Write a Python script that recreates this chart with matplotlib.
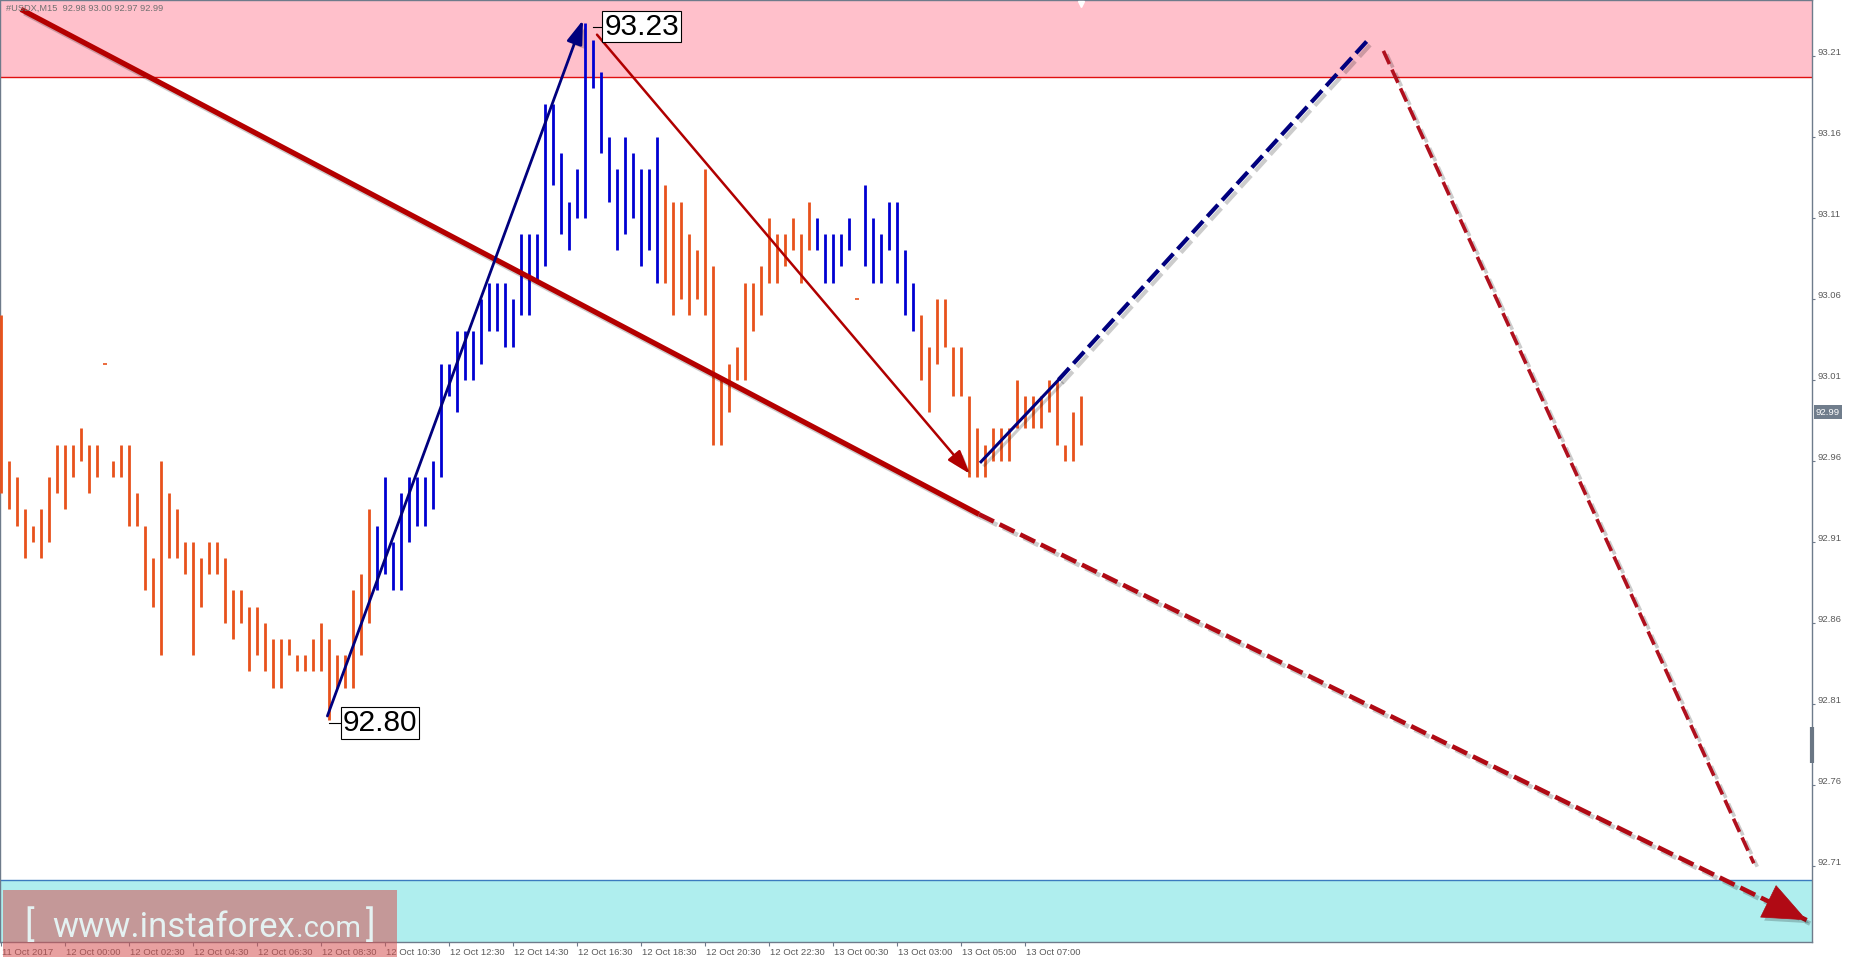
"""
usdx_m15_waves.py
-----------------
USDX M15 bar chart with wave markup (resistance / support zones, forecast arrows).
"""

import matplotlib
matplotlib.use("Agg")
import matplotlib.pyplot as plt
import matplotlib.patheffects as pe
import matplotlib.transforms as mtransforms
from matplotlib.patches import Rectangle

FIG_W, FIG_H, DPI = 1854, 959, 100

# ---- bars (one per M15 bar, oldest first) ----
highs = [
    93.05, 92.96, 92.95, 92.93, 92.92, 92.93, 92.95, 92.97, 92.97, 92.97,
    92.98, 92.97, 92.97, 93.02, 92.96, 92.97, 92.97, 92.94, 92.92, 92.90,
    92.96, 92.94, 92.93, 92.91, 92.91, 92.90, 92.91, 92.91, 92.90, 92.88,
    92.88, 92.87, 92.87, 92.86, 92.85, 92.85, 92.85, 92.84, 92.84, 92.85,
    92.86, 92.85, 92.84, 92.84, 92.88, 92.89, 92.93, 92.92, 92.95, 92.91,
    92.94, 92.95, 92.95, 92.95, 92.96, 93.02, 93.02, 93.04, 93.04, 93.04,
    93.06, 93.07, 93.07, 93.07, 93.06, 93.10, 93.10, 93.10, 93.18, 93.18,
    93.15, 93.12, 93.14, 93.23, 93.22, 93.20, 93.16, 93.14, 93.16, 93.15,
    93.14, 93.14, 93.16, 93.13, 93.12, 93.12, 93.10, 93.09, 93.14, 93.08,
    93.01, 93.02, 93.03, 93.07, 93.07, 93.08, 93.11, 93.10, 93.10, 93.11,
    93.10, 93.12, 93.11, 93.10, 93.10, 93.10, 93.11, 93.06, 93.13, 93.11,
    93.10, 93.12, 93.12, 93.09, 93.07, 93.05, 93.03, 93.06, 93.06, 93.03,
    93.03, 93.00, 92.98, 92.97, 92.98, 92.98, 92.98, 93.01, 93.00, 93.00,
    93.00, 93.01, 93.01, 92.97, 92.99, 93.00,
]
lows = [
    92.94, 92.93, 92.92, 92.90, 92.91, 92.90, 92.91, 92.94, 92.93, 92.95,
    92.96, 92.94, 92.95, 93.02, 92.95, 92.95, 92.92, 92.92, 92.88, 92.87,
    92.84, 92.90, 92.90, 92.89, 92.84, 92.87, 92.89, 92.89, 92.86, 92.85,
    92.86, 92.83, 92.84, 92.83, 92.82, 92.82, 92.84, 92.83, 92.83, 92.83,
    92.83, 92.80, 92.82, 92.82, 92.82, 92.84, 92.86, 92.88, 92.89, 92.88,
    92.88, 92.91, 92.92, 92.92, 92.93, 92.95, 93.00, 92.99, 93.01, 93.01,
    93.02, 93.04, 93.04, 93.03, 93.03, 93.05, 93.05, 93.07, 93.08, 93.13,
    93.10, 93.09, 93.11, 93.11, 93.19, 93.15, 93.12, 93.09, 93.10, 93.11,
    93.08, 93.09, 93.07, 93.07, 93.05, 93.06, 93.05, 93.06, 93.05, 92.97,
    92.97, 92.99, 93.01, 93.01, 93.04, 93.05, 93.07, 93.07, 93.08, 93.09,
    93.07, 93.09, 93.09, 93.07, 93.07, 93.08, 93.09, 93.06, 93.08, 93.07,
    93.07, 93.09, 93.07, 93.05, 93.04, 93.01, 92.99, 93.02, 93.03, 93.00,
    93.00, 92.95, 92.95, 92.95, 92.96, 92.96, 92.96, 92.98, 92.98, 92.98,
    92.98, 92.99, 92.97, 92.96, 92.96, 92.97,
]
# bars painted blue by the wave indicator (inclusive index ranges)
blue_ranges = [(47, 82), (102, 106), (108, 114)]

time_labels = [
    "11 Oct 2017", "12 Oct 00:00", "12 Oct 02:30", "12 Oct 04:30", "12 Oct 06:30",
    "12 Oct 08:30", "12 Oct 10:30", "12 Oct 12:30", "12 Oct 14:30", "12 Oct 16:30",
    "12 Oct 18:30", "12 Oct 20:30", "12 Oct 22:30", "13 Oct 00:30", "13 Oct 03:00",
    "13 Oct 05:00", "13 Oct 07:00",
]
LABEL_EVERY = 8  # bars between time labels

price_ticks = [93.21, 93.16, 93.11, 93.06, 93.01, 92.96, 92.91, 92.86, 92.81, 92.76, 92.71]

header     = "#USDX,M15  92.98 93.00 92.97 92.99"
last_price = 92.99

resistance_zone = (93.197, 93.2444)
support_zone    = (92.6630, 92.701)

peak_label   = (75.4, 93.228, "93.23")
trough_label = (42.7, 92.798, "92.80")

# wave markup, (bar index, price) pairs
big_trend_x,   big_trend_y   = [2.5, 122.25],  [93.2386, 92.927]
big_fc_x,      big_fc_y      = [122.25, 225.7], [92.927, 92.6765]
wave_up_x,     wave_up_y     = [40.8, 72.75],  [92.8025, 93.232]
wave_down_x,   wave_down_y   = [74.5, 121.1],  [93.223, 92.952]
new_up_x,      new_up_y      = [122.5, 132.2], [92.9594, 93.01]
new_up_fc_x,   new_up_fc_y   = [132.2, 171.0], [93.01, 93.2204]
down_fc_x,     down_fc_y     = [172.8, 219.1], [93.213, 92.7116]

ORANGE = "#E8521C"
BLUE   = "#0000D2"
NAVY   = "#00007E"
DRED   = "#B40000"
GRAY   = "#6E7B8B"
TXT    = "#5A5A5A"

shadow = [pe.SimpleLineShadow(offset=(2.5, -2.5), shadow_color="k", alpha=0.2), pe.Normal()]
pshadow = [pe.SimplePatchShadow(offset=(2.5, -2.5), shadow_rgbFace="k", alpha=0.2), pe.Normal()]


def arrow_head(ax, xs, ys, color, scale, hl, hw):
    # short segment just before the tip, so only the filled head shows
    x0 = xs[1] - (xs[1] - xs[0]) * 0.02
    y0 = ys[1] - (ys[1] - ys[0]) * 0.02
    ax.annotate("", xy=(xs[1], ys[1]), xytext=(x0, y0),
                arrowprops=dict(arrowstyle=f"-|>,head_length={hl},head_width={hw}",
                                color=color, lw=0.5, mutation_scale=scale,
                                shrinkA=0, shrinkB=0, path_effects=pshadow),
                zorder=6)


fig = plt.figure(figsize=(FIG_W / DPI, FIG_H / DPI), dpi=DPI)
ax = fig.add_axes([0, 1 - 942 / FIG_H, 1812 / FIG_W, 942 / FIG_H])
ax.set_facecolor("white")

n = len(highs)
ax.set_xlim(-0.125, 226.375)
ax.set_ylim(support_zone[0], resistance_zone[1])

# zones
ax.axhspan(resistance_zone[0], resistance_zone[1], color="#FFC0CB", lw=0, zorder=0)
ax.axhline(resistance_zone[0], color="#E01010", lw=1.0, zorder=1)
ax.axhspan(support_zone[0], support_zone[1], color="#AFEEEE", lw=0, zorder=0)
ax.axhline(support_zone[1], color="#3B7BBF", lw=1.0, zorder=1)

# bars
colors = [ORANGE] * n
for a, b in blue_ranges:
    for i in range(a, b + 1):
        colors[i] = BLUE
ax.vlines(range(n), lows, highs, colors=colors, linewidth=2.0, capstyle="butt", zorder=3)
flat = [i for i in range(n) if highs[i] == lows[i]]
ax.plot(flat, [highs[i] for i in flat], ls="none", marker="_", ms=3, mew=1.2,
        color=ORANGE, zorder=3)

# big falling trend + dashed forecast
ax.plot(big_trend_x, big_trend_y, color=DRED, lw=3.8, solid_capstyle="butt",
        path_effects=shadow, zorder=5)
ax.plot(big_fc_x, big_fc_y, color="#B00A14", lw=3.3, dashes=(3.6, 1.4),
        path_effects=shadow, zorder=5)
arrow_head(ax, big_fc_x, big_fc_y, "#B00A14", 30, 1.0, 0.42)

# wave up (navy) and wave down (thin red)
ax.annotate("", xy=(wave_up_x[1], wave_up_y[1]), xytext=(wave_up_x[0], wave_up_y[0]),
            arrowprops=dict(arrowstyle="-|>,head_length=0.9,head_width=0.3", color=NAVY,
                            lw=2.0, mutation_scale=16, shrinkA=0, shrinkB=0,
                            path_effects=pshadow), zorder=6)
ax.annotate("", xy=(wave_down_x[1], wave_down_y[1]), xytext=(wave_down_x[0], wave_down_y[0]),
            arrowprops=dict(arrowstyle="-|>,head_length=0.9,head_width=0.3", color="#B00000",
                            lw=1.8, mutation_scale=16, shrinkA=0, shrinkB=0,
                            path_effects=pshadow), zorder=6)

# new wave up and its forecast
ax.plot(new_up_x, new_up_y, color=NAVY, lw=2.2, path_effects=shadow, zorder=6)
ax.plot(new_up_fc_x, new_up_fc_y, color=NAVY, lw=3.0, dashes=(3.8, 1.5),
        path_effects=shadow, zorder=6)
ax.plot(down_fc_x, down_fc_y, color="#B0101E", lw=2.6, dashes=(4.0, 1.7),
        path_effects=shadow, zorder=6)

# price labels
for bx, py, txt, bar in [(*peak_label, 74), (*trough_label, 41)]:
    ax.plot([bar, bx], [py, py], color="k", lw=0.8, zorder=6)
    ax.text(bx, py, txt, ha="left", va="center", fontsize=21.5,
            family="Liberation Sans", color="black", zorder=7,
            bbox=dict(boxstyle="square,pad=0.06", fc="white", ec="black", lw=0.8))

# header
ax.text(6 / 1812, 1 - 8 / 942, header, transform=ax.transAxes, ha="left", va="center",
        fontsize=6.7, family="Liberation Sans", color="#707070", zorder=8)

# axes cosmetics
for side in ["left", "top", "right", "bottom"]:
    ax.spines[side].set_color(GRAY)
    ax.spines[side].set_linewidth(1.0)
ax.yaxis.tick_right()
ax.set_yticks(price_ticks)
ax.set_yticklabels([f"{p:.2f}" for p in price_ticks])
ax.tick_params(axis="y", length=2, pad=2, colors=GRAY, labelcolor=TXT, labelsize=6.8)
up = mtransforms.ScaledTranslation(0, 4 / DPI, fig.dpi_scale_trans)
for lab in ax.get_yticklabels():
    lab.set_family("Liberation Sans")
    lab.set_transform(lab.get_transform() + up)

tick_pos = [k * LABEL_EVERY for k in range(len(time_labels))]
ax.set_xticks(tick_pos)
ax.set_xticklabels(time_labels, ha="left")
ax.tick_params(axis="x", length=3, pad=1.5, colors=GRAY, labelcolor=TXT, labelsize=6.8)
right = mtransforms.ScaledTranslation(1 / DPI, 0, fig.dpi_scale_trans)
for lab in ax.get_xticklabels():
    lab.set_family("Liberation Sans")
    lab.set_transform(lab.get_transform() + right)

# last price tag on the axis
tr = mtransforms.blended_transform_factory(ax.transAxes, ax.transData)
ax.text(1 + 4 / 1812, last_price, f"{last_price:.2f}", transform=tr, ha="left", va="center",
        fontsize=6.8, family="Liberation Sans", color="white", zorder=9, clip_on=False,
        bbox=dict(boxstyle="square,pad=0.25", fc="#707D8C", ec="none"))
ax.plot([1, 1], [0.19, 0.228], transform=ax.transAxes, color="#6A7684", lw=3,
        clip_on=False, zorder=9, solid_capstyle="butt")
# chart shift marker
trx = mtransforms.blended_transform_factory(ax.transData, ax.transAxes)
ax.plot([n - 1], [0.996], transform=trx, marker="v", ms=5, color="white", mec="white",
        clip_on=False, zorder=9)

# watermark
fig.add_artist(Rectangle((3 / FIG_W, 1 - 957 / FIG_H), 394 / FIG_W, 67 / FIG_H,
                         transform=fig.transFigure, fc=(0.84, 0.32, 0.32), alpha=0.55,
                         ec="none", zorder=10))
wm = dict(color="#E4F2F2", family="Roboto", va="baseline", zorder=11)
base = 1 - 937 / FIG_H
fig.text(24 / FIG_W, base + 1 / FIG_H, "[", fontsize=26, **wm)
fig.text(52 / FIG_W, base, "www.instaforex", fontsize=25, **wm)
fig.text(296 / FIG_W, base, ".com", fontsize=21, **wm)
fig.text(366 / FIG_W, base + 1 / FIG_H, "]", fontsize=26, **wm)

fig.savefig("out.png", dpi=DPI)
plt.close(fig)
